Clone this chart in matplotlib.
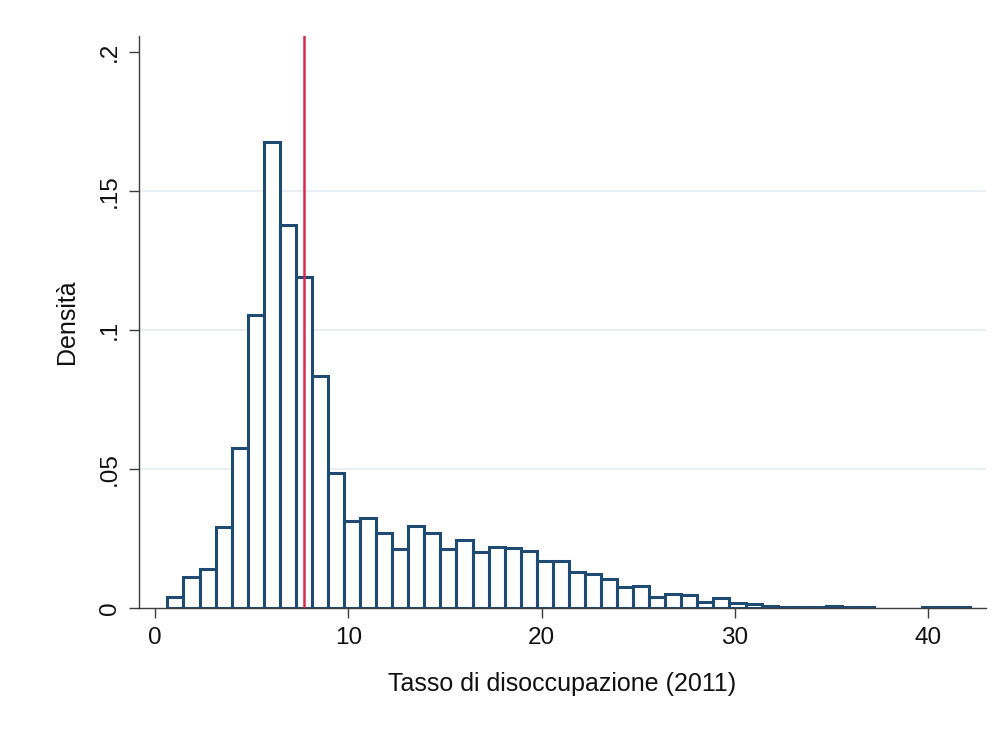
import numpy as np
import matplotlib
matplotlib.use('Agg')
import matplotlib.pyplot as plt

plt.rcParams['font.family'] = ['Liberation Sans', 'DejaVu Sans']

# histogram: 50 bins from 0.64 to 42.19 (density scale)
bin_start = 0.64
bin_end = 42.19
density = [
    0.0040, 0.0110, 0.0139, 0.0292, 0.0574, 0.1054, 0.1676, 0.1378, 0.1188, 0.0832,
    0.0484, 0.0314, 0.0322, 0.0269, 0.0211, 0.0293, 0.0269, 0.0212, 0.0245, 0.0200,
    0.0218, 0.0215, 0.0206, 0.0169, 0.0169, 0.0131, 0.0121, 0.0104, 0.0074, 0.0078,
    0.0040, 0.0049, 0.0047, 0.0022, 0.0037, 0.0017, 0.0013, 0.0008, 0.0003, 0.0002,
    0.0003, 0.0006, 0.0003, 0.0003, 0.0, 0.0, 0.0, 0.0003, 0.0003, 0.0003,
]
ref_line = 7.7  # vertical red line

xticks = [0, 10, 20, 30, 40]
yticks = [0, 0.05, 0.1, 0.15, 0.2]
ytick_labels = ['0', '.05', '.1', '.15', '.2']

navy = '#1f4a72'
red = '#d62a4f'
axis_col = '#3c3c3c'

edges = np.linspace(bin_start, bin_end, len(density) + 1)
width = edges[1] - edges[0]
dens = np.array(density)
keep = dens > 0

fig = plt.figure(figsize=(10, 7.35), dpi=100)
ax = fig.add_axes([0.139, 0.1728, 0.847, 0.7787])

for g in [0.05, 0.1, 0.15]:
    ax.axhline(g, color='#e6eff2', lw=1.3, zorder=0)

ax.bar(edges[:-1][keep], dens[keep], width=width, align='edge',
       color='white', edgecolor=navy, linewidth=2.2, zorder=2)
ax.axvline(ref_line, color=red, lw=1.8, zorder=3)

ax.set_xlim(-0.83, 43.0)
ax.set_ylim(0, 0.2057)
ax.set_xticks(xticks)
ax.set_yticks(yticks)
ax.set_yticklabels(ytick_labels, rotation=90, va='center')

for s in ['top', 'right']:
    ax.spines[s].set_visible(False)
for s in ['left', 'bottom']:
    ax.spines[s].set_color(axis_col)
    ax.spines[s].set_linewidth(1.0)

ax.tick_params(axis='both', direction='out', length=7, width=1.0,
               color=axis_col, labelsize=17.5, labelcolor='#111111')
ax.tick_params(axis='y', pad=6)
ax.tick_params(axis='x', pad=7)

ax.set_xlabel('Tasso di disoccupazione (2011)', fontsize=18, color='#111111')
ax.xaxis.set_label_coords(0.5, -0.1328)
ax.xaxis.label.set_va('center')
ax.set_ylabel('Densità', fontsize=18, color='#111111')
ax.yaxis.set_label_coords(-(139 - 67) / 847, 0.5)
ax.yaxis.label.set_va('center')

fig.savefig('out.png', dpi=100, facecolor='white')
